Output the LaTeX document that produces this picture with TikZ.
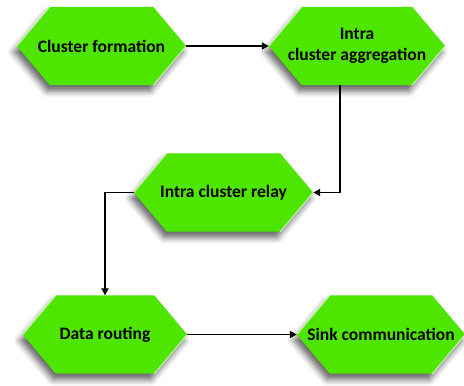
\documentclass[tikz,border=0pt]{standalone}
\usepackage{fontspec}
\setmainfont{Carlito}
\usetikzlibrary{calc, positioning}
\usetikzlibrary{arrows.meta}
\usetikzlibrary{shadows.blur}
\usetikzlibrary{backgrounds}

\definecolor{hexgreen}{RGB}{78,229,0}
\definecolor{hexedge}{RGB}{205,250,175}

\tikzset{
  stage/.style={minimum height=78pt, inner sep=0pt, align=center, text=black,
    font=\fontsize{17.5}{20.5}\selectfont\bfseries},
  hexfill/.style={fill=hexgreen, blur shadow={shadow xshift=-3pt, shadow yshift=-6pt,
    shadow blur radius=6pt, shadow opacity=60}},
  hexlight/.style={draw=hexedge, line width=0.9pt},
  flow/.style={line width=1.8pt, -{Triangle[length=7pt,width=7pt]}},
}

\begin{document}
\begin{tikzpicture}[x=1pt,y=-1pt]
\def\tip{33}
\useasboundingbox (0,0) rectangle (464,386);

\node[stage, minimum width=169pt] (form) at (101.5,46) {Cluster formation};
\node[stage, minimum width=176pt] (agg) at (357,46) {Intra\\cluster aggregation};
\node[stage, minimum width=179pt] (relay) at (223.5,192.5) {Intra cluster relay};
\node[stage, minimum width=164pt] (route) at (105,334.5) {Data routing};
\node[stage, minimum width=168pt] (sink) at (381,334.5) {Sink communication};

% hexagons behind the texts
\begin{pgfonlayer}{background}
\foreach \n in {form,agg,relay,route,sink}{
  \fill[hexfill] (\n.west) -- ([xshift=\tip pt]\n.north west) -- ([xshift=-\tip pt]\n.north east)
    -- (\n.east) -- ([xshift=-\tip pt]\n.south east) -- ([xshift=\tip pt]\n.south west) -- cycle;
  \draw[hexlight] (\n.west) -- ([xshift=\tip pt]\n.north west);
  \draw[hexlight] (\n.east) -- ([xshift=-\tip pt]\n.south east);
}
\end{pgfonlayer}

\draw[flow] (form.east) -- (agg.west);
\draw[flow] ([xshift=-17pt]agg.south) |- (relay.east);
\draw[flow] (relay.west) -| (route.north);
\draw[flow] (route.east) -- (sink.west);
\end{tikzpicture}
\end{document}
